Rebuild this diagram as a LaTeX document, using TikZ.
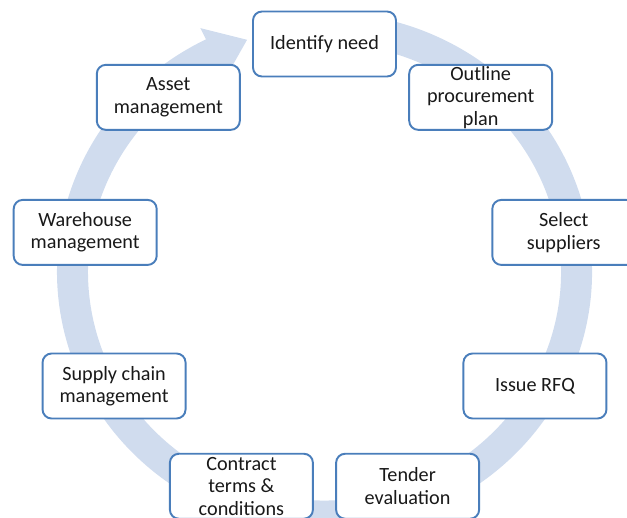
\documentclass[tikz,border=0pt]{standalone}
\usepackage{fontspec}
\setmainfont{Carlito}
\usepackage{tikz}
\usetikzlibrary{positioning}

\definecolor{bandblue}{RGB}{208,220,238}
\definecolor{boxblue}{RGB}{74,126,187}
\definecolor{textgray}{RGB}{25,25,25}

\begin{document}
\begin{tikzpicture}[
	stage/.style={draw=boxblue,line width=1.1pt,fill=white,rounded corners=0.18cm,
		minimum width=2.86cm,minimum height=1.30cm,inner xsep=2pt,inner ysep=0pt,
		align=center,text=textgray,font=\fontsize{11.5}{12.8}\selectfont},
	band/.style={draw=bandblue,line width=0.62cm}]
	\useasboundingbox (-6.49,-4.90) rectangle (6.05,5.44);
	\clip (-6.49,-4.90) rectangle (6.05,5.44);

	% circular arrow behind the boxes
	\draw[band] (100:5.04 and 4.88) arc[start angle=100,end angle=-244,x radius=5.04,y radius=4.88];
	\fill[bandblue] (116.3:5.60 and 5.44) -- (107.9:5.04 and 4.88) -- (116.3:4.48 and 4.32) -- cycle;

	\node[stage] (need)      at (90:4.86 and 4.56)   {Identify need};
	\node[stage] (plan)      at (50:4.86 and 4.56)   {Outline\\procurement\\plan};
	\node[stage] (suppliers) at (10:4.86 and 4.56)   {Select\\suppliers};
	\node[stage] (rfq)       at (-30:4.86 and 4.56)  {Issue RFQ};
	\node[stage] (tender)    at (-70:4.86 and 4.56)  {Tender\\evaluation};
	\node[stage] (contract)  at (-110:4.86 and 4.56) {Contract\\terms \&\\conditions};
	\node[stage] (supply)    at (-150:4.86 and 4.56) {Supply chain\\management};
	\node[stage] (warehouse) at (170:4.86 and 4.56)  {Warehouse\\management};
	\node[stage] (asset)     at (130:4.86 and 4.56)  {Asset\\management};

\end{tikzpicture}
\end{document}
